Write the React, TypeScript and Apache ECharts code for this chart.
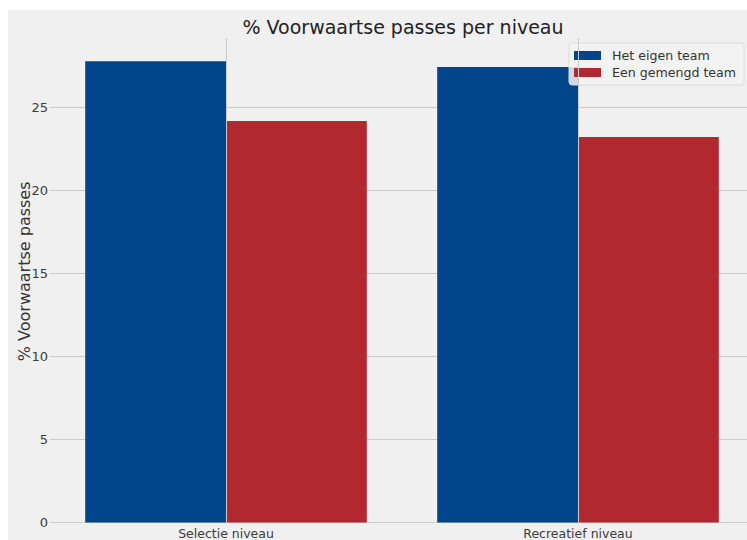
import React, { useEffect, useRef } from "react";
import * as echarts from "echarts";

const categories = ["Selectie niveau", "Recreatief niveau"];
const seriesNames = ["Het eigen team", "Een gemengd team"];
const eigenTeam = [27.8, 27.46];
const gemengdTeam = [24.2, 23.24];
const yTicks = [0, 5, 10, 15, 20, 25];

const FONT = "DejaVu Sans";

export default function App() {
  const ref = useRef<HTMLDivElement>(null);
  useEffect(() => {
    if (!ref.current) return;
    const chart = echarts.init(ref.current, undefined, { renderer: "svg" });
    const yMax = Math.max(...eigenTeam, ...gemengdTeam) * 1.05;
    chart.setOption({
      animation: false,
      backgroundColor: "#f0f0f0",
      textStyle: { fontFamily: FONT },
      title: {
        text: "% Voorwaartse passes per niveau",
        left: 395,
        top: 7,
        textAlign: "center",
        padding: 0,
        textStyle: { fontFamily: FONT, fontSize: 19, fontWeight: "normal", color: "#222" },
      },
      legend: {
        data: seriesNames,
        orient: "vertical",
        left: 561,
        top: 33,
        icon: "rect",
        itemWidth: 27,
        itemHeight: 9,
        itemGap: 4,
        padding: [6, 8, 6, 5],
        backgroundColor: "rgba(243,243,243,0.85)",
        borderColor: "#dcdcdc",
        borderWidth: 1,
        borderRadius: 3,
        textStyle: { fontFamily: FONT, fontSize: 12.6, lineHeight: 13, color: "#333", padding: [0, 0, 0, 6] },
      },
      grid: {
        left: 42,
        right: -7,
        top: 28.2,
        bottom: 17.5,
        containLabel: false,
        outerBoundsMode: "none",
      },
      xAxis: {
        type: "category",
        data: categories,
        axisLine: { show: false },
        axisTick: { show: false },
        splitLine: { show: false },
        axisLabel: { fontFamily: FONT, fontSize: 12.5, color: "#3c3c3c", margin: 4 },
      },
      yAxis: {
        type: "value",
        min: yTicks[0],
        max: yMax,
        interval: yTicks[1] - yTicks[0],
        name: "% Voorwaartse passes",
        nameLocation: "middle",
        nameRotate: 90,
        nameGap: 18,
        nameMoveOverlap: false,
        nameTextStyle: { fontFamily: FONT, fontSize: 16, color: "#333", padding: [0, 0, 0, 18] },
        axisLine: { show: false },
        axisTick: { show: false },
        axisLabel: {
          fontFamily: FONT,
          fontSize: 13,
          color: "#3c3c3c",
          margin: 2,
          showMaxLabel: false,
          formatter: (v: number) => (yTicks.includes(v) ? String(v) : ""),
        },
        splitLine: { show: true, showMaxLine: false, lineStyle: { color: "#cbcbcb", width: 1 } },
      },
      series: [
        {
          name: "__vgrid",
          type: "line",
          z: 1,
          data: categories.map(() => "-"),
          showSymbol: false,
          silent: true,
          markLine: {
            silent: true,
            symbol: "none",
            label: { show: false },
            lineStyle: { color: "#cbcbcb", width: 1, type: "solid" },
            data: categories.map((c) => ({ xAxis: c })),
          },
        },
        {
          name: seriesNames[0],
          type: "bar",
          z: 2,
          data: eigenTeam,
          barWidth: "40%",
          barGap: "0%",
          itemStyle: { color: "#01458b" },
        },
        {
          name: seriesNames[1],
          type: "bar",
          z: 2,
          data: gemengdTeam,
          barWidth: "40%",
          barGap: "0%",
          itemStyle: { color: "#b1292e" },
        },
      ],
    });
    return () => chart.dispose();
  }, []);
  return (
    <div
      ref={ref}
      style={{ position: "absolute", left: 8, top: 10, width: 739, height: 530 }}
    />
  );
}
